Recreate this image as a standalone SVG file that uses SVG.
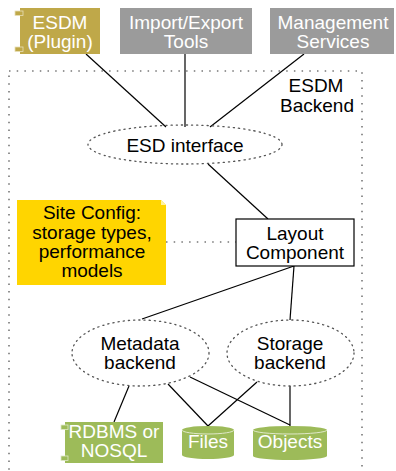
<svg xmlns="http://www.w3.org/2000/svg" width="396" height="471" viewBox="0 0 396 471">
<style>
text{font-family:"Liberation Sans",Arial,sans-serif;font-size:19px;text-anchor:middle}
.w{fill:#fff}
.k{fill:#000}
.dot{fill:none;stroke:#555;stroke-width:1.3;stroke-dasharray:1.2 4;stroke-linecap:round}
.cont{fill:none;stroke:#777;stroke-width:1.6;stroke-dasharray:1.5 6.2}
.ln{stroke:#000;stroke-width:1.2;fill:none}
.olive{fill:#BFA849}
.grey{fill:#9B9B9B}
.green{fill:#9DBB59}
.tab{stroke:#e8dfb8;stroke-width:0.8}
.tabg{stroke:#dfe8c8;stroke-width:0.8}
</style>
<rect class="cont" x="9" y="71" width="353" height="420"/>
<g id="connectors">
<line class="ln" x1="86" y1="54" x2="166" y2="127"/>
<line class="ln" x1="185" y1="54" x2="185" y2="127"/>
<line class="ln" x1="304" y1="54" x2="210" y2="127"/>
<line class="ln" x1="208" y1="164" x2="268" y2="219"/>
<line x1="166" y1="242" x2="236" y2="242" stroke="#777" stroke-width="1.5" stroke-dasharray="1.5 6.2"/>
<line class="ln" x1="294" y1="266" x2="142" y2="319"/>
<line class="ln" x1="294" y1="266" x2="290" y2="320"/>
<line class="ln" x1="129" y1="386" x2="114" y2="422"/>
<line class="ln" x1="168" y1="384" x2="208" y2="426"/>
<line class="ln" x1="190" y1="377" x2="290" y2="425"/>
<line class="ln" x1="257" y1="382" x2="208" y2="426"/>
<line class="ln" x1="290" y1="386" x2="290" y2="426"/>
</g>
<g id="esdm-plugin">
<rect class="olive" x="20" y="8" width="80" height="46"/>
<rect class="olive tab" x="15" y="11" width="8" height="4.5"/>
<rect class="olive tab" x="15" y="47" width="8" height="4.5"/>
<text class="w" x="60" y="28.5">ESDM</text>
<text class="w" x="60" y="47.5">(Plugin)</text>
</g>
<g id="import-export">
<rect class="grey" x="120" y="8" width="132" height="46"/>
<text class="w" x="186" y="28.5">Import/Export</text>
<text class="w" x="186" y="47.5">Tools</text>
</g>
<g id="management">
<rect class="grey" x="270" y="8" width="124" height="46"/>
<text class="w" x="333" y="28.5">Management</text>
<text class="w" x="333" y="47.5">Services</text>
</g>
<g id="esdm-backend-label">
<text class="k" x="316" y="92">ESDM</text>
<text class="k" x="317" y="112">Backend</text>
</g>
<g id="esd-interface">
<ellipse class="dot" cx="185" cy="144.5" rx="97" ry="19.5" fill="#fff"/>
<text class="k" x="185" y="152">ESD interface</text>
</g>
<g id="site-config">
<path fill="#FFD500" d="M17,200 H161 L166,205 V285 H17 Z"/>
<path fill="#FFF3A0" d="M161,200 L166,205 H161 Z"/>
<text class="k" x="92" y="219">Site Config:</text>
<text class="k" x="92" y="238.5">storage types,</text>
<text class="k" x="92" y="258">performance</text>
<text class="k" x="92" y="277">models</text>
</g>
<g id="layout">
<rect x="236" y="219" width="118" height="47" fill="#fff" stroke="#000" stroke-width="1.2"/>
<text class="k" x="295" y="240">Layout</text>
<text class="k" x="295" y="259">Component</text>
</g>
<g id="metadata">
<ellipse class="dot" cx="140.5" cy="353" rx="68.5" ry="33" fill="#fff"/>
<text class="k" x="140" y="349.5">Metadata</text>
<text class="k" x="140" y="368.5">backend</text>
</g>
<g id="storage">
<ellipse class="dot" cx="290.5" cy="353" rx="63.5" ry="33" fill="none"/>
<text class="k" x="290" y="349.5">Storage</text>
<text class="k" x="290" y="368.5">backend</text>
</g>
<g id="rdbms">
<rect class="green" x="65" y="422" width="98" height="41"/>
<rect class="green tabg" x="61" y="425" width="7" height="4.5"/>
<rect class="green tabg" x="61" y="456" width="7" height="4.5"/>
<text class="w" x="114" y="438">RDBMS or</text>
<text class="w" x="114" y="457">NOSQL</text>
</g>
<g id="files">
<path class="green" d="M182,430 A26,4 0 0 1 234,430 V455 A26,4 0 0 1 182,455 Z"/>
<path d="M182,430 A26,4 0 0 0 234,430" fill="none" stroke="#dfe8c8" stroke-width="1"/>
<text class="w" x="208" y="448">Files</text>
</g>
<g id="objects">
<path class="green" d="M253,430 A37,4 0 0 1 327,430 V456 A37,4 0 0 1 253,456 Z"/>
<path d="M253,430 A37,4 0 0 0 327,430" fill="none" stroke="#dfe8c8" stroke-width="1"/>
<text class="w" x="290" y="448">Objects</text>
</g>
</svg>
